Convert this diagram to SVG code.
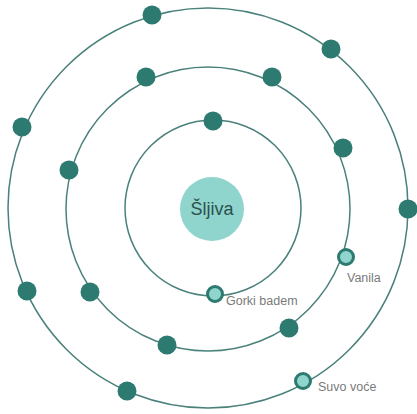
<svg xmlns="http://www.w3.org/2000/svg" width="417" height="414" viewBox="0 0 417 414">
<style>
.orbit{fill:none;stroke:#4a817b;stroke-width:1.5}
.dot{fill:#2c7a70}
.hol{fill:#8fd4cd;stroke:#2c7a70;stroke-width:3}
.lbl{font-family:"Liberation Sans",Arial,sans-serif;font-size:12.5px;fill:#7a7a7a}
.ctr{font-family:"Liberation Sans",Arial,sans-serif;font-size:18px;fill:#2a524d}
</style>
<rect width="417" height="414" fill="#fff"/>
<g id="orbits">
<circle class="orbit" cx="208" cy="208" r="200"/>
<circle class="orbit" cx="208" cy="209" r="142"/>
<circle class="orbit" cx="213" cy="208" r="88"/>
</g>
<g id="center"><circle cx="212" cy="209" r="32" fill="#8fd4cd"/><text class="ctr" x="212" y="215" text-anchor="middle">Šljiva</text></g>
<g id="outer-dots">
<circle class="dot" cx="152" cy="15" r="9.5"/>
<circle class="dot" cx="331" cy="49" r="9.5"/>
<circle class="dot" cx="22" cy="127" r="9.5"/>
<circle class="dot" cx="408" cy="209" r="9.5"/>
<circle class="dot" cx="27" cy="291" r="9.5"/>
<circle class="dot" cx="127" cy="391" r="9.5"/>
</g>
<g id="middle-dots">
<circle class="dot" cx="146" cy="77" r="9.5"/>
<circle class="dot" cx="272" cy="77" r="9.5"/>
<circle class="dot" cx="343" cy="148" r="9.5"/>
<circle class="dot" cx="69" cy="170" r="9.5"/>
<circle class="dot" cx="90" cy="292" r="9.5"/>
<circle class="dot" cx="289" cy="328" r="9.5"/>
<circle class="dot" cx="167" cy="345" r="9.5"/>
</g>
<g id="inner-dots">
<circle class="dot" cx="213" cy="121" r="9.5"/>
</g>
<g id="gorki-badem"><circle class="hol" cx="215" cy="294" r="7.5"/><text class="lbl" x="226" y="305">Gorki badem</text></g>
<g id="vanila"><circle class="hol" cx="346" cy="257" r="7.5"/><text class="lbl" x="347" y="282">Vanila</text></g>
<g id="suvo-voce"><circle class="hol" cx="303" cy="381" r="7.5"/><text class="lbl" x="318" y="391">Suvo voće</text></g>
</svg>
